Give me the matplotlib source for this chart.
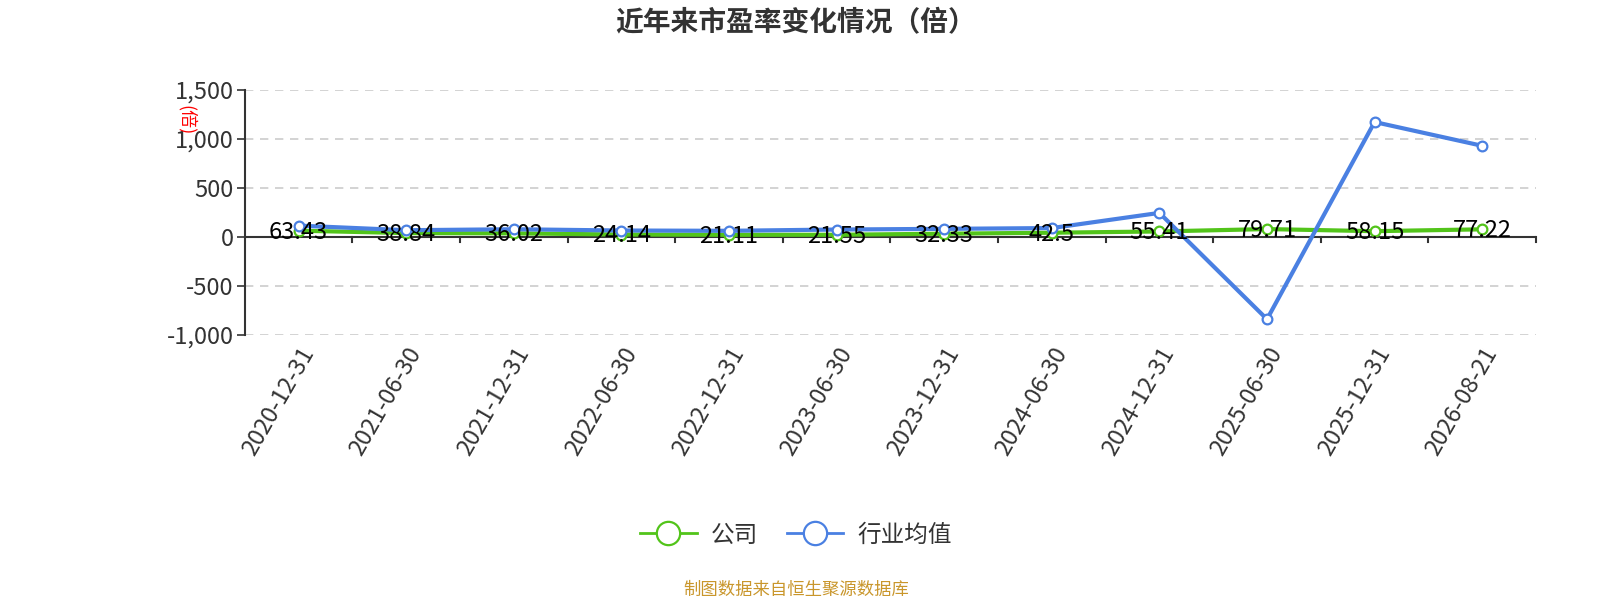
import matplotlib.pyplot as plt
from matplotlib.ticker import FuncFormatter, MultipleLocator

plt.rcParams['font.family'] = ['Noto Sans CJK SC', 'DejaVu Sans']

# data
dates = ['2020-12-31', '2021-06-30', '2021-12-31', '2022-06-30', '2022-12-31', '2023-06-30',
         '2023-12-31', '2024-06-30', '2024-12-31', '2025-06-30', '2025-12-31', '2026-08-21']
company = [63.43, 38.84, 36.02, 24.14, 21.11, 21.55, 32.33, 42.5, 55.41, 79.71, 58.15, 77.22]
industry = [115, 68, 78, 65, 62, 75, 82, 90, 245, -841, 1173, 930]

green = '#52c41a'
blue = '#4a80e2'
axis_color = '#333333'

fig = plt.figure(figsize=(16, 6), dpi=100)
ax = fig.add_axes([0.153, 0.442, 0.807, 0.408])

x = list(range(len(dates)))
ax.plot(x, company, color=green, lw=3, marker='o', ms=7, mfc='white', mec=green, mew=1.6,
        zorder=3, label='公司')
ax.plot(x, industry, color=blue, lw=3, marker='o', ms=7, mfc='white', mec=blue, mew=1.6,
        zorder=4, label='行业均值')

for xi, v in zip(x, company):
    ax.annotate(f'{v:g}', (xi, v), xytext=(0, -1), textcoords='offset points',
                ha='center', va='center', fontsize=17, color='black', zorder=5)

ax.set_xlim(-0.5, len(dates) - 0.5)
ax.set_ylim(-1000, 1500)
ax.yaxis.set_major_locator(MultipleLocator(500))
ax.yaxis.set_major_formatter(FuncFormatter(lambda v, p: f'{int(v):,}'))
ax.grid(axis='y', color='#cccccc', ls=(0, (5, 4)), lw=1.2)
ax.set_axisbelow(True)

for s in ['top', 'right', 'bottom']:
    ax.spines[s].set_visible(False)
ax.spines['left'].set_color(axis_color)
ax.spines['left'].set_linewidth(1.5)
ax.axhline(0, color=axis_color, lw=1.5, zorder=2)

ax.tick_params(axis='y', colors=axis_color, labelsize=17, length=6, width=1.2, pad=2)
ax.tick_params(axis='x', length=0, labelsize=17, colors=axis_color, pad=6)
ax.set_xticks(x)
ax.set_xticklabels(dates, rotation=60, ha='right', rotation_mode='anchor')

# category boundary ticks on the zero line
for b in range(1, len(dates) + 1):
    ax.plot([b - 0.5, b - 0.5], [0, -55], color=axis_color, lw=1.5, clip_on=False, zorder=2)

ax.text(-0.045, 0.875, '(倍)', transform=ax.transAxes, rotation=-90, color='red',
        fontsize=13, ha='center', va='center')

fig.text(0.4975, 0.962, '近年来市盈率变化情况（倍）', ha='center', va='center',
         fontsize=20, fontweight='bold', color=axis_color)

leg = fig.legend(loc='center', bbox_to_anchor=(0.4975, 0.108), ncol=2, frameon=False,
                 fontsize=17, markerscale=2.4, handlelength=2.4, columnspacing=1.2,
                 handletextpad=0.6)
for line in leg.get_lines():
    line.set_linewidth(2)
for t in leg.get_texts():
    t.set_color(axis_color)

fig.text(0.4975, 0.017, '制图数据来自恒生聚源数据库', ha='center', va='center',
         fontsize=12.5, color='#c9962b')

fig.savefig('out.png', dpi=100)
